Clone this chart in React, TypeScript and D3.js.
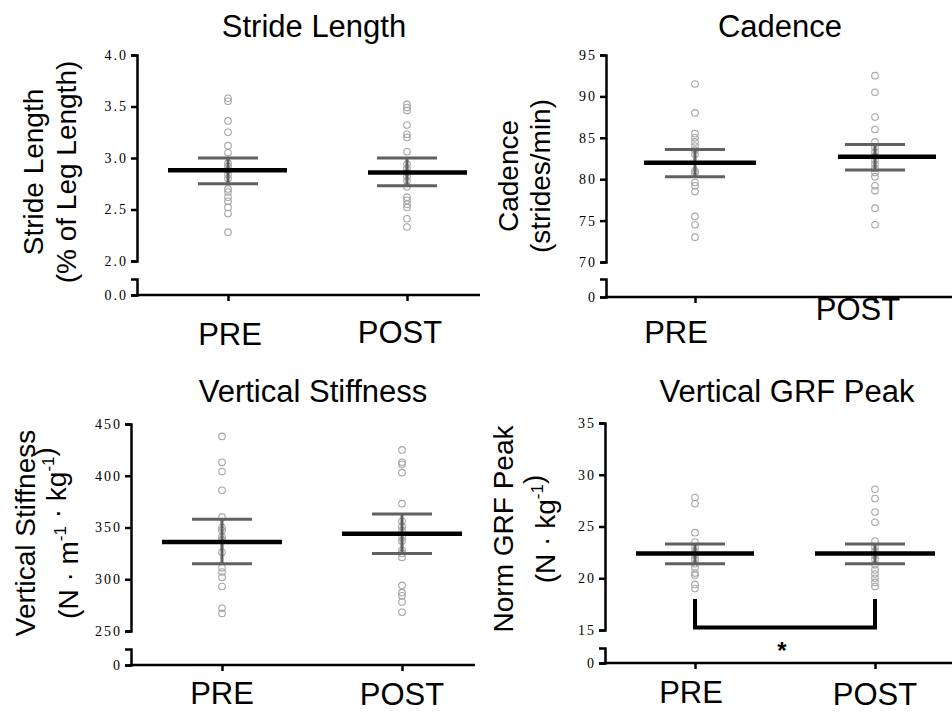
import React, { useEffect, useRef } from 'react';
import * as d3 from 'd3';

const categories = ['PRE', 'POST'];

// stride length (% of leg length)
const strideTicks = [2.0, 2.5, 3.0, 3.5, 4.0];
const stridePre = [3.58, 3.55, 3.36, 3.25, 3.12, 3.05, 2.95, 2.92, 2.88, 2.84, 2.8, 2.7, 2.67, 2.62, 2.58, 2.52, 2.46, 2.28];
const stridePost = [3.52, 3.49, 3.46, 3.32, 3.23, 3.2, 3.06, 2.94, 2.9, 2.86, 2.82, 2.78, 2.72, 2.62, 2.59, 2.55, 2.52, 2.41, 2.33];
const strideMean = [2.88, 2.86];
const strideSemHi = [3.0, 3.0];
const strideSemLo = [2.75, 2.73];

// cadence (strides/min)
const cadenceTicks = [70, 75, 80, 85, 90, 95];
const cadencePre = [91.5, 88.0, 85.5, 85.0, 84.5, 84.0, 83.5, 83.0, 81.0, 80.7, 79.6, 79.2, 78.5, 75.5, 74.5, 73.0];
const cadencePost = [92.5, 90.5, 87.5, 86.0, 84.5, 83.8, 83.3, 82.8, 82.3, 81.8, 81.3, 80.8, 80.3, 79.2, 78.6, 76.5, 74.5];
const cadenceMean = [82.0, 82.7];
const cadenceSemHi = [83.6, 84.2];
const cadenceSemLo = [80.3, 81.1];

// vertical stiffness
const stiffTicks = [250, 300, 350, 400, 450];
const stiffPre = [438, 413, 404, 386, 360, 350, 347, 341, 338, 326, 311, 307, 302, 293, 272, 267];
const stiffPost = [425, 413, 411, 403, 373, 356, 351, 347, 340, 337, 328, 325, 321, 294, 287, 284, 278, 268];
const stiffMean = [336, 344];
const stiffSemHi = [358, 363];
const stiffSemLo = [315, 325];

// vertical GRF peak
const grfTicks = [15, 20, 25, 30, 35];
const grfPre = [27.8, 27.2, 24.4, 23.5, 23.0, 22.6, 22.2, 21.8, 21.4, 21.0, 20.5, 20.3, 19.4, 19.0];
const grfPost = [28.6, 27.7, 26.4, 25.4, 23.6, 23.0, 22.6, 22.2, 21.8, 21.3, 20.8, 20.4, 20.0, 19.6, 19.2];
const grfMean = [22.4, 22.4];
const grfSemHi = [23.3, 23.3];
const grfSemLo = [21.4, 21.4];
const grfBracket = [18.0, 15.25];

const panels = [
  {
    title: 'Stride Length', titleX: 314, titleY: 37,
    ylab: [['Stride Length', 43], ['(% of Leg Length)', 76]], ylabY: 172,
    ticks: strideTicks, fmt: '.1f', zeroLabel: '0.0',
    pre: stridePre, post: stridePost, mean: strideMean, hi: strideSemHi, lo: strideSemLo,
    axisX: 137, yTop: 55, yBottom: 261, capY: 279, zeroY: 295, xPre: 228, xPost: 407, xEnd: 480,
    meanExt: [[60, 59], [39, 60]], labY: [345, 343], labDx: [2, -7],
  },
  {
    title: 'Cadence', titleX: 780, titleY: 37,
    ylab: [['Cadence', 518], ['(strides/min)', 550]], ylabY: 176,
    ticks: cadenceTicks, fmt: 'd', zeroLabel: '0',
    pre: cadencePre, post: cadencePost, mean: cadenceMean, hi: cadenceSemHi, lo: cadenceSemLo,
    axisX: 606, yTop: 55, yBottom: 262, capY: 279, zeroY: 297, xPre: 695, xPost: 875, xEnd: 952,
    meanExt: [[51, 61], [37, 61]], labY: [343, 320], labDx: [-19, -17],
  },
  {
    title: 'Vertical Stiffness', titleX: 313, titleY: 402,
    ylab: [['Vertical Stiffness', 35], ['(N · m-1 · kg-1)', 78]], ylabY: 533,
    ticks: stiffTicks, fmt: 'd', zeroLabel: '0',
    pre: stiffPre, post: stiffPost, mean: stiffMean, hi: stiffSemHi, lo: stiffSemLo,
    axisX: 131, yTop: 424, yBottom: 631, capY: 649, zeroY: 665, xPre: 222, xPost: 402, xEnd: 475,
    meanExt: [[60, 60], [60, 60]], labY: [704, 705], labDx: [0, 0],
  },
  {
    title: 'Vertical GRF Peak', titleX: 787, titleY: 402,
    ylab: [['Norm GRF Peak', 513], ['(N · kg-1)', 555]], ylabY: 529,
    ticks: grfTicks, fmt: 'd', zeroLabel: '0',
    pre: grfPre, post: grfPost, mean: grfMean, hi: grfSemHi, lo: grfSemLo,
    axisX: 605, yTop: 423, yBottom: 630, capY: 648, zeroY: 663, xPre: 695, xPost: 875, xEnd: 952,
    meanExt: [[59, 59], [60, 60]], labY: [703, 705], labDx: [-4, 0],
    bracket: grfBracket,
  },
];

const SANS = 'Arial, "Liberation Sans", Helvetica, sans-serif';
const SERIF = '"Liberation Serif", "Times New Roman", Times, serif';

const App = () => {
  const ref = useRef<SVGSVGElement>(null);

  useEffect(() => {
    const svg = d3.select(ref.current);
    svg.selectAll('*').remove();

    panels.forEach((p: any) => {
      const g = svg.append('g');
      const lo = p.ticks[0];
      const hi = p.ticks[p.ticks.length - 1];
      const y = d3.scaleLinear().domain([lo, hi]).range([p.yBottom, p.yTop]);
      const yZero = d3.scaleLinear().domain([0, 1]).range([p.zeroY, p.capY]);
      const x = d3.scalePoint().domain(categories).range([p.xPre, p.xPost]);

      // title
      g.append('text')
        .attr('x', p.titleX).attr('y', p.titleY)
        .attr('text-anchor', 'middle')
        .style('font-family', SANS).style('font-size', '31px')
        .text(p.title);

      // y labels (rotated)
      p.ylab.forEach(([txt, bx]: [string, number]) => {
        const t = g.append('text')
          .attr('transform', `translate(${bx},${p.ylabY}) rotate(-90)`)
          .attr('text-anchor', 'middle')
          .style('font-family', SANS).style('font-size', '28px');
        if (txt.includes('-1')) {
          const parts = txt.split('-1');
          parts.forEach((part, i) => {
            t.append('tspan').text(part);
            if (i < parts.length - 1) {
              t.append('tspan').attr('dy', -12).style('font-size', '17px').text('-1');
              t.append('tspan').attr('dy', 12).text('');
            }
          });
        } else {
          t.text(txt);
        }
      });

      // y axis upper
      const ax = g.append('g')
        .attr('transform', `translate(${p.axisX},0)`)
        .call(d3.axisLeft(y).tickValues(p.ticks).tickFormat(d3.format(p.fmt)).tickSize(6).tickPadding(3));
      // y axis lower (break)
      const ax0 = g.append('g')
        .attr('transform', `translate(${p.axisX},0)`)
        .call(d3.axisLeft(yZero).tickValues([0]).tickFormat(() => p.zeroLabel).tickSize(6).tickPadding(3));
      [ax, ax0].forEach((a) => {
        a.attr('font-family', SERIF).attr('font-size', 14);
        a.selectAll('path, line').attr('stroke', '#000').attr('stroke-width', 2.5);
        a.selectAll('text')
          .attr('font-size', 14)
          .style('letter-spacing', '2px').attr('fill', '#000');
      });

      // x axis
      g.append('line')
        .attr('x1', p.axisX - 1).attr('x2', p.xEnd)
        .attr('y1', p.zeroY).attr('y2', p.zeroY)
        .attr('stroke', '#000').attr('stroke-width', 2.5);
      const xa = g.append('g')
        .attr('transform', `translate(0,${p.zeroY})`)
        .call(d3.axisBottom(x).tickSize(6).tickFormat(() => ''));
      xa.select('.domain').remove();
      xa.selectAll('line').attr('stroke', '#000').attr('stroke-width', 2.5);

      // category labels
      categories.forEach((c, i) => {
        g.append('text')
          .attr('x', (x(c) as number) + p.labDx[i]).attr('y', p.labY[i])
          .attr('text-anchor', 'middle')
          .style('font-family', SANS).style('font-size', '31px')
          .text(c);
      });

      // points
      [p.pre, p.post].forEach((vals: number[], i: number) => {
        g.append('g').selectAll('circle').data(vals).enter().append('circle')
          .attr('cx', x(categories[i]) as number)
          .attr('cy', (d) => y(d))
          .attr('r', 3.3)
          .attr('fill', 'none').attr('stroke', '#a6a6a6').attr('stroke-width', 1.1);
      });

      // SEM bars and mean
      categories.forEach((c, i) => {
        const cx = x(c) as number;
        const sem = g.append('g').attr('stroke', '#606060').attr('stroke-width', 3);
        sem.append('line').attr('x1', cx).attr('x2', cx).attr('y1', y(p.hi[i])).attr('y2', y(p.lo[i]));
        [p.hi[i], p.lo[i]].forEach((v: number) => {
          sem.append('line').attr('x1', cx - 30).attr('x2', cx + 30).attr('y1', y(v)).attr('y2', y(v));
        });
        g.append('line')
          .attr('x1', cx - p.meanExt[i][0]).attr('x2', cx + p.meanExt[i][1])
          .attr('y1', y(p.mean[i])).attr('y2', y(p.mean[i]))
          .attr('stroke', '#000').attr('stroke-width', 4.5);
      });

      // significance bracket
      if (p.bracket) {
        const x0 = x(categories[0]) as number;
        const x1 = x(categories[1]) as number;
        const path = d3.path();
        path.moveTo(x0, y(p.bracket[0]));
        path.lineTo(x0, y(p.bracket[1]));
        path.lineTo(x1, y(p.bracket[1]));
        path.lineTo(x1, y(p.bracket[0]));
        g.append('path').attr('d', path.toString())
          .attr('fill', 'none').attr('stroke', '#000').attr('stroke-width', 4);
        g.append('text')
          .attr('x', (x0 + x1) / 2 - 3).attr('y', p.zeroY - 4)
          .attr('text-anchor', 'middle')
          .style('font-family', SANS).style('font-size', '24px').style('font-weight', 'bold')
          .text('*');
      }
    });
  }, []);

  return (
    <svg ref={ref} width={952} height={712}
      style={{ position: 'absolute', left: 0, top: 0, background: '#fff' }} />
  );
};

export default App;
